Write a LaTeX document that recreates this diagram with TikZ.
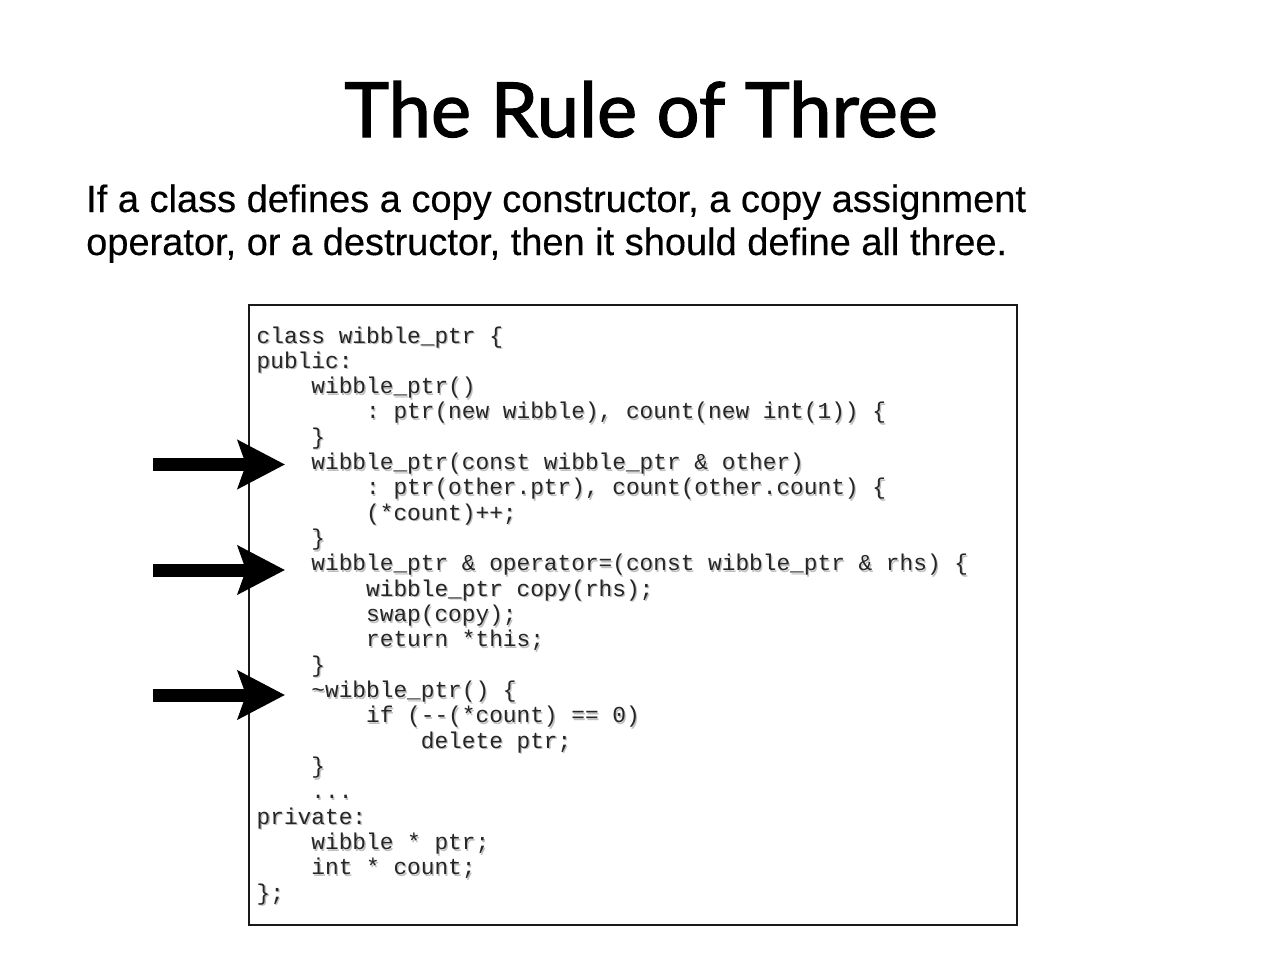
\documentclass[tikz,border=0pt]{standalone}
\usepackage{fontspec}
\setmainfont{Liberation Sans}[FakeBold=0.35]
\setmonofont{Liberation Mono}
\newfontfamily\titlefont{Lato}[FakeBold=1.6]
\usetikzlibrary{arrows.meta}
\newcommand\shtext[1]{\rlap{\kern1.3pt\raisebox{-1.6pt}{\textcolor{black!25}{#1}}}#1}
\tikzset{
  codeline/.style={anchor=base west, inner sep=0pt, font=\fontsize{22.8}{25}\ttfamily, text=black!85},
  subline/.style={anchor=base west, inner sep=0pt, font=\fontsize{38}{43}\selectfont},
  bigarrow/.style={line width=13pt, -{Stealth[length=47pt,width=48pt,inset=8pt]}},
}
\begin{document}
\begin{tikzpicture}[x=1pt,y=-1pt]
\fill[white] (0,0) rectangle (1280,958);
\useasboundingbox (0,0) rectangle (1280,958);
% title
\node[anchor=base, inner sep=0pt, font=\titlefont\fontsize{76}{80}\selectfont] (title) at (641,137) {The Rule of Three};
% subtitle
\node[subline] (sub1) at (86,212) {If a class defines a copy constructor, a copy assignment};
\node[subline] (sub2) at (86,255) {operator, or a destructor, then it should define all three.};
% code box
\draw[line width=2.8pt, black!90] (249,305) rectangle (1017,925);
\def\cx{256.5}
\def\cw{13.68}
\def\cl{25.32}
\node[codeline] (l0)  at (\cx+0*\cw, 343+0*\cl)  {\shtext{class wibble\_ptr \{}};
\node[codeline] (l1)  at (\cx+0*\cw, 343+1*\cl)  {\shtext{public:}};
\node[codeline] (l2)  at (\cx+4*\cw, 343+2*\cl)  {\shtext{wibble\_ptr()}};
\node[codeline] (l3)  at (\cx+8*\cw, 343+3*\cl)  {\shtext{: ptr(new wibble), count(new int(1)) \{}};
\node[codeline] (l4)  at (\cx+4*\cw, 343+4*\cl)  {\shtext{\}}};
\node[codeline] (l5)  at (\cx+4*\cw, 343+5*\cl)  {\shtext{wibble\_ptr(const wibble\_ptr \& other)}};
\node[codeline] (l6)  at (\cx+8*\cw, 343+6*\cl)  {\shtext{: ptr(other.ptr), count(other.count) \{}};
\node[codeline] (l7)  at (\cx+8*\cw, 343+7*\cl)  {\shtext{(*count)++;}};
\node[codeline] (l8)  at (\cx+4*\cw, 343+8*\cl)  {\shtext{\}}};
\node[codeline] (l9)  at (\cx+4*\cw, 343+9*\cl)  {\shtext{wibble\_ptr \& operator=(const wibble\_ptr \& rhs) \{}};
\node[codeline] (l10) at (\cx+8*\cw, 343+10*\cl) {\shtext{wibble\_ptr copy(rhs);}};
\node[codeline] (l11) at (\cx+8*\cw, 343+11*\cl) {\shtext{swap(copy);}};
\node[codeline] (l12) at (\cx+8*\cw, 343+12*\cl) {\shtext{return *this;}};
\node[codeline] (l13) at (\cx+4*\cw, 343+13*\cl) {\shtext{\}}};
\node[codeline] (l14) at (\cx+4*\cw, 343+14*\cl) {\shtext{\textasciitilde wibble\_ptr() \{}};
\node[codeline] (l15) at (\cx+8*\cw, 343+15*\cl) {\shtext{if (-{}-(*count) == 0)}};
\node[codeline] (l16) at (\cx+12*\cw, 343+16*\cl) {\shtext{delete ptr;}};
\node[codeline] (l17) at (\cx+4*\cw, 343+17*\cl) {\shtext{\}}};
\node[codeline] (l18) at (\cx+4*\cw, 343+18*\cl) {\shtext{...}};
\node[codeline] (l19) at (\cx+0*\cw, 343+19*\cl) {\shtext{private:}};
\node[codeline] (l20) at (\cx+4*\cw, 343+20*\cl) {\shtext{wibble * ptr;}};
\node[codeline] (l21) at (\cx+4*\cw, 343+21*\cl) {\shtext{int * count;}};
\node[codeline] (l22) at (\cx+0*\cw, 343+22*\cl) {\shtext{\};}};
% arrows
\coordinate (as1) at (153,464.5);
\coordinate (ae1) at (285,464.5);
\coordinate (as2) at (153,570);
\coordinate (ae2) at (285,570);
\coordinate (as3) at (153,695);
\coordinate (ae3) at (285,695);
\draw[bigarrow] (as1) -- (ae1);
\draw[bigarrow] (as2) -- (ae2);
\draw[bigarrow] (as3) -- (ae3);
\end{tikzpicture}
\end{document}
